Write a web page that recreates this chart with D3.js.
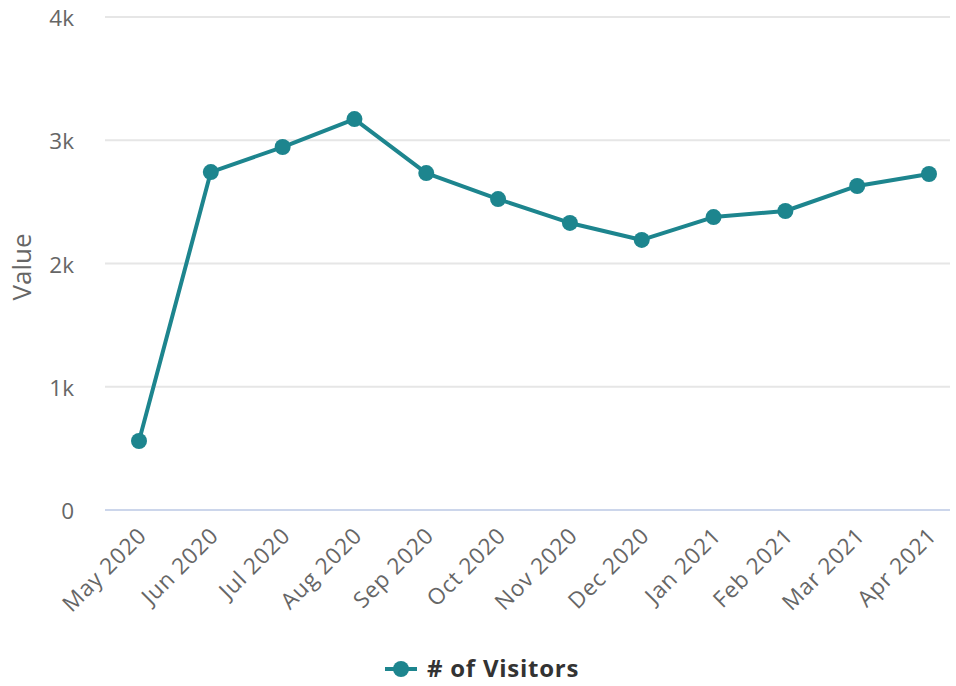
<!DOCTYPE html>
<html>
<head>
<meta charset="utf-8">
<script src="https://cdn.jsdelivr.net/npm/d3@7"></script>
<style>
  body { margin: 0; background: #fff; }
  svg { font-family: "Open Sans", sans-serif; }
</style>
</head>
<body>
<div id="chart"></div>
<script>
// data
var months = ['May 2020', 'Jun 2020', 'Jul 2020', 'Aug 2020', 'Sep 2020', 'Oct 2020',
              'Nov 2020', 'Dec 2020', 'Jan 2021', 'Feb 2021', 'Mar 2021', 'Apr 2021'];
var visitors = [560, 2742, 2945, 3172, 2734, 2523, 2329, 2191, 2377, 2426, 2629, 2726];
var yTicks = [0, 1000, 2000, 3000, 4000];
var seriesName = '# of Visitors';
var lineColor = '#1d858e';

var width = 956, height = 686;
var svg = d3.select('#chart').append('svg').attr('width', width).attr('height', height);

var plot = { left: 105, right: 950, top: 17, bottom: 510 };

var x = d3.scalePoint()
    .domain(months)
    .range([139, 929]);

var y = d3.scaleLinear()
    .domain([0, 4000])
    .range([plot.bottom, plot.top]);

// grid lines
svg.append('g')
    .selectAll('line')
    .data(yTicks.slice(1))
    .enter().append('line')
    .attr('x1', plot.left)
    .attr('x2', plot.right)
    .attr('y1', d => y(d))
    .attr('y2', d => y(d))
    .attr('stroke', '#e6e6e6')
    .attr('stroke-width', 2);

// y axis labels
svg.append('g')
    .selectAll('text')
    .data(yTicks)
    .enter().append('text')
    .attr('x', 74)
    .attr('y', d => y(d) + 9)
    .attr('text-anchor', 'end')
    .attr('fill', '#666')
    .attr('font-size', 22.5)
    .text(d => d === 0 ? '0' : (d / 1000) + 'k');

// x axis line
svg.append('line')
    .attr('x1', plot.left)
    .attr('x2', plot.right)
    .attr('y1', plot.bottom)
    .attr('y2', plot.bottom)
    .attr('stroke', '#ccd6eb')
    .attr('stroke-width', 2);

// x labels, rotated
svg.append('g')
    .selectAll('text')
    .data(months)
    .enter().append('text')
    .attr('transform', d => 'translate(' + (x(d) + 9) + ',' + 537 + ') rotate(-45)')
    .attr('text-anchor', 'end')
    .attr('fill', '#666')
    .attr('font-size', 22.5)
    .attr('letter-spacing', 0.8)
    .text(d => d);

// y axis title
svg.append('text')
    .attr('transform', 'translate(31,' + 267 + ') rotate(-90)')
    .attr('text-anchor', 'middle')
    .attr('fill', '#666')
    .attr('font-size', 26)
    .text('Value');

// the line
var line = d3.line()
    .x((d, i) => x(months[i]))
    .y(d => y(d));

svg.append('path')
    .datum(visitors)
    .attr('d', line)
    .attr('fill', 'none')
    .attr('stroke', lineColor)
    .attr('stroke-width', 4)
    .attr('stroke-linejoin', 'round');

svg.append('g')
    .selectAll('circle')
    .data(visitors)
    .enter().append('circle')
    .attr('cx', (d, i) => x(months[i]))
    .attr('cy', d => y(d))
    .attr('r', 8)
    .attr('fill', lineColor);

// legend
var legend = svg.append('g').attr('transform', 'translate(385,669)');
legend.append('line')
    .attr('x1', 0).attr('x2', 32)
    .attr('stroke', lineColor)
    .attr('stroke-width', 4);
legend.append('circle')
    .attr('cx', 16).attr('r', 8)
    .attr('fill', lineColor);
legend.append('text')
    .attr('x', 42)
    .attr('y', 8)
    .attr('font-size', 24)
    .attr('font-weight', 'bold')
    .attr('letter-spacing', 0.75)
    .attr('fill', '#333')
    .text(seriesName);
</script>
</body>
</html>
